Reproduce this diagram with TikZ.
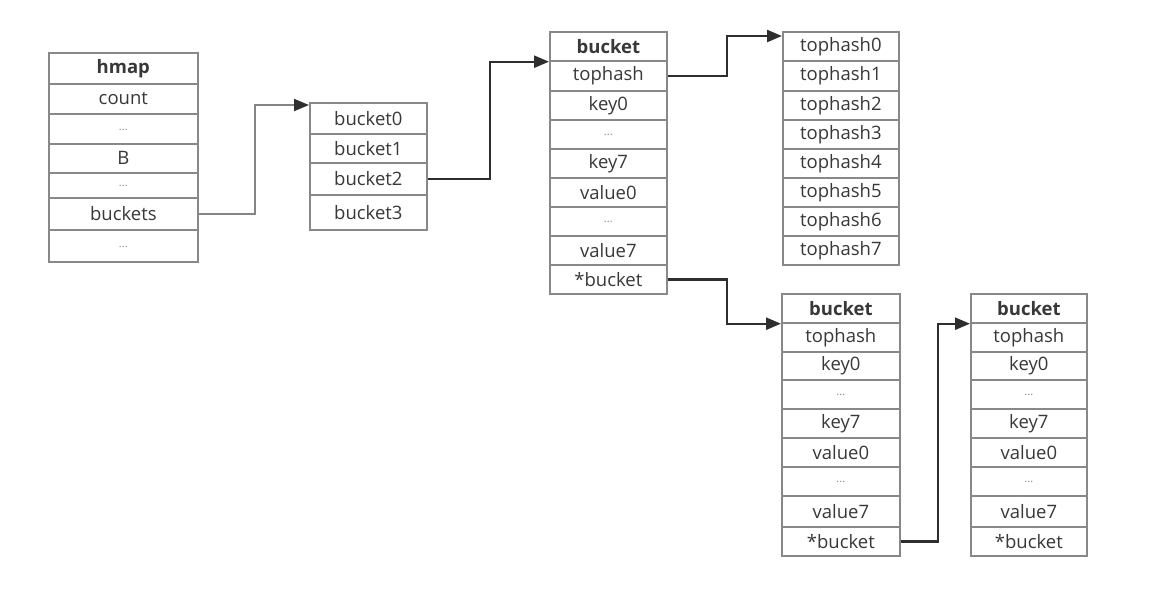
\documentclass[tikz,border=0pt]{standalone}
\usepackage{fontspec}
\setmainfont{Open Sans}
\usetikzlibrary{arrows.meta,calc}
\definecolor{txt}{HTML}{383838}
\definecolor{frame}{HTML}{888888}
\definecolor{wire}{HTML}{2E2E2E}
\definecolor{softwire}{HTML}{858585}
\tikzset{
  cell/.style={draw=frame, line width=1.7pt, fill=white, inner sep=0pt,
    anchor=north west, text=txt, font=\fontsize{18.5}{20}\selectfont},
  headcell/.style={cell, font=\fontsize{18.5}{20}\selectfont\bfseries},
  dotcell/.style={cell, font=\fontsize{11}{12}\selectfont, text=frame},
  link/.style={draw=wire, line width=2.4pt, -{Triangle[length=15pt,width=12pt]}},
  softlink/.style={draw=softwire, line width=1.8pt, -{Triangle[length=15pt,width=12pt,color=wire]}},
}
% #1 style, #2 name, #3 left x, #4 top y, #5 bottom y, #6 width, #7 text
\newcommand\rowcell[7]{\node[#1, minimum width=#6pt, minimum height={#5pt-#4pt}] (#2) at (#3,#4) {#7};}
% ellipsis placeholder, set a little below the middle of its row
\newcommand\gap{\raisebox{-3pt}{...}}
\begin{document}
\begin{tikzpicture}[x=1pt,y=-1pt]
\useasboundingbox (0,0) rectangle (1154,600);

% hmap header structure
\rowcell{headcell}{hm-head}{48}{52}{83}{149}{hmap}
\rowcell{cell}{hm-count}{48}{83}{113}{149}{count}
\rowcell{dotcell}{hm-d1}{48}{113}{143}{149}{\gap}
\rowcell{cell}{hm-B}{48}{143}{172}{149}{B}
\rowcell{dotcell}{hm-d2}{48}{172}{197}{149}{\gap}
\rowcell{cell}{hm-buckets}{48}{197}{229}{149}{buckets}
\rowcell{dotcell}{hm-d3}{48}{229}{261}{149}{\gap}

% bucket array
\rowcell{cell}{ba0}{309}{102}{133}{117}{bucket0}
\rowcell{cell}{ba1}{309}{133}{162}{117}{bucket1}
\rowcell{cell}{ba2}{309}{162}{194}{117}{bucket2}
\rowcell{cell}{ba3}{309}{194}{229}{117}{bucket3}

% first bucket
\rowcell{headcell}{b1-head}{549}{31}{60}{117}{bucket}
\rowcell{cell}{b1-top}{549}{60}{90}{117}{tophash}
\rowcell{cell}{b1-k0}{549}{90}{119}{117}{key0}
\rowcell{dotcell}{b1-d1}{549}{119}{148}{117}{\gap}
\rowcell{cell}{b1-k7}{549}{148}{177}{117}{key7}
\rowcell{cell}{b1-v0}{549}{177}{206}{117}{value0}
\rowcell{dotcell}{b1-d2}{549}{206}{235}{117}{\gap}
\rowcell{cell}{b1-v7}{549}{235}{264}{117}{value7}
\rowcell{cell}{b1-next}{549}{264}{293}{117}{*bucket}

% tophash array
\rowcell{cell}{th0}{782}{31}{60}{116}{tophash0}
\rowcell{cell}{th1}{782}{60}{90}{116}{tophash1}
\rowcell{cell}{th2}{782}{90}{119}{116}{tophash2}
\rowcell{cell}{th3}{782}{119}{148}{116}{tophash3}
\rowcell{cell}{th4}{782}{148}{177}{116}{tophash4}
\rowcell{cell}{th5}{782}{177}{206}{116}{tophash5}
\rowcell{cell}{th6}{782}{206}{235}{116}{tophash6}
\rowcell{cell}{th7}{782}{235}{264}{116}{tophash7}

% overflow bucket
\rowcell{headcell}{b2-head}{781}{293}{322}{118}{bucket}
\rowcell{cell}{b2-top}{781}{322}{351}{118}{tophash}
\rowcell{cell}{b2-k0}{781}{351}{379}{118}{key0}
\rowcell{dotcell}{b2-d1}{781}{379}{408}{118}{\gap}
\rowcell{cell}{b2-k7}{781}{408}{437}{118}{key7}
\rowcell{cell}{b2-v0}{781}{437}{466}{118}{value0}
\rowcell{dotcell}{b2-d2}{781}{466}{495}{118}{\gap}
\rowcell{cell}{b2-v7}{781}{495}{526}{118}{value7}
\rowcell{cell}{b2-next}{781}{526}{555}{118}{*bucket}

% second overflow bucket
\rowcell{headcell}{b3-head}{970}{293}{322}{116}{bucket}
\rowcell{cell}{b3-top}{970}{322}{351}{116}{tophash}
\rowcell{cell}{b3-k0}{970}{351}{379}{116}{key0}
\rowcell{dotcell}{b3-d1}{970}{379}{408}{116}{\gap}
\rowcell{cell}{b3-k7}{970}{408}{437}{116}{key7}
\rowcell{cell}{b3-v0}{970}{437}{466}{116}{value0}
\rowcell{dotcell}{b3-d2}{970}{466}{495}{116}{\gap}
\rowcell{cell}{b3-v7}{970}{495}{526}{116}{value7}
\rowcell{cell}{b3-next}{970}{526}{555}{116}{*bucket}

% pointers
\coordinate (ba-in) at ($(ba0.north west)+(0,3)$);
\coordinate (th-in) at ($(th0.north west)+(0,5)$);
\draw[softlink] (hm-buckets.east) -- ++(56,0) |- (ba-in);
\draw[link] (ba2.east) -- ++(62,0) |- (b1-head.south west);
\draw[link] (b1-top.east) -- ++(59,0) |- (th-in);
\draw[link] (b1-next.east) -- ++(59,0) |- (b2-head.south west);
\draw[link] (b2-next.east) -- ++(37,0) |- (b3-head.south west);
\end{tikzpicture}
\end{document}
